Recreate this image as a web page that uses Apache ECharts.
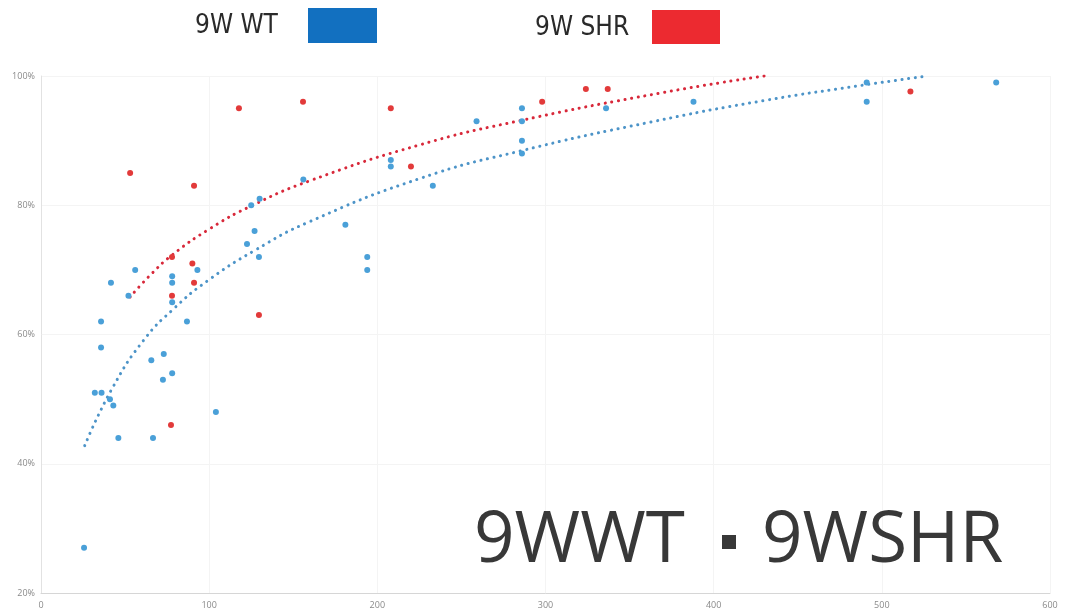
<!DOCTYPE html>
<html>
<head>
<meta charset="utf-8">
<title>9W WT / 9W SHR</title>
<script src="https://cdn.jsdelivr.net/npm/echarts@6/dist/echarts.min.js"></script>
<style>
  html, body { margin: 0; padding: 0; background: #fff; }
  #main { width: 1066px; height: 612px; }
</style>
</head>
<body>
<div id="main"></div>
<script>
// 9W WT 数据点 (x, 百分比)
var wtX = [25.6, 32, 36, 35.7, 35.7, 41, 43, 41.6, 46, 52, 56, 65.6, 66.6, 72.5, 73, 78, 78, 78, 78, 86.8, 93, 104,
  122.5, 125, 127, 129.6, 130, 156, 181, 194, 194, 208, 208, 233, 259, 286, 286, 286, 286, 336, 388, 491, 491, 568];
var wtY = [27, 51, 51, 62, 58, 50, 49, 68, 44, 66, 70, 56, 44, 53, 57, 69, 68, 65, 54, 62, 70, 48,
  74, 80, 76, 72, 81, 84, 77, 72, 70, 87, 86, 83, 93, 95, 93, 90, 88, 95, 96, 99, 96, 99];

// 9W SHR 数据点
var shrX = [53, 77.9, 77.9, 77.3, 90, 91, 91, 117.7, 129.6, 155.8, 208, 220, 298, 324, 337, 517];
var shrY = [85, 72, 66, 46, 71, 68, 83, 95, 63, 96, 95, 86, 96, 98, 98, 97.6];

// 趋势线
var wtTrendX = [26, 42, 61, 79, 99, 127, 160, 226, 285, 363, 430, 492, 527];
var wtTrendY = [42.8, 51.5, 59.1, 64.0, 68.3, 73.0, 77.5, 84.2, 88.4, 92.9, 96.2, 98.7, 100];
var shrTrendX = [53, 65, 78, 100, 125, 160, 226, 285, 369, 430];
var shrTrendY = [65.8, 69.2, 72.3, 76.3, 79.9, 83.8, 89.4, 93.1, 97.4, 100];

var xTicks = [0, 100, 200, 300, 400, 500, 600];
var yTicks = [20, 40, 60, 80, 100];

var legendNames = ['9W WT', '9W SHR'];
var titleParts = ['9WWT', '9WSHR'];

function pairs(xs, ys) {
  var out = [];
  for (var i = 0; i < xs.length; i++) out.push([xs[i], ys[i]]);
  return out;
}

var chart = echarts.init(document.getElementById('main'), null, { renderer: 'canvas' });

var legendFont = '"Liberation Sans Narrow", "DejaVu Sans Condensed", "Roboto Condensed", "Open Sans", sans-serif';

var dotLine = function (color) {
  return { color: color, width: 3, type: [0.1, 6.6], cap: 'round' };
};

var option = {
  animation: false,
  backgroundColor: '#fff',
  grid: { left: 41, right: 16, top: 76, bottom: 19 },
  xAxis: {
    type: 'value',
    min: xTicks[0],
    max: xTicks[xTicks.length - 1],
    interval: 100,
    axisLine: { show: true, lineStyle: { color: '#d6d6d6' } },
    axisTick: { show: false },
    axisLabel: { color: '#8a8a8a', fontSize: 9, fontFamily: 'Open Sans', margin: 8 },
    splitLine: { show: true, lineStyle: { color: '#f4f4f4' } }
  },
  yAxis: {
    type: 'value',
    min: yTicks[0],
    max: yTicks[yTicks.length - 1],
    interval: 20,
    axisLine: { show: true, lineStyle: { color: '#e2e2e2' } },
    axisTick: { show: false },
    axisLabel: { color: '#8a8a8a', fontSize: 9, fontFamily: 'Open Sans', formatter: '{value}%', margin: 6 },
    splitLine: { show: true, lineStyle: { color: '#f4f4f4' } }
  },
  graphic: [
    // 图例
    { type: 'text', left: 195, top: 13, style: { text: legendNames[0], fontSize: 26, fontFamily: legendFont, fill: '#2a2a2a' } },
    { type: 'rect', shape: { x: 308, y: 8, width: 69, height: 35 }, style: { fill: '#1270c0' } },
    { type: 'text', left: 535, top: 15, style: { text: legendNames[1], fontSize: 26, fontFamily: legendFont, fill: '#2a2a2a' } },
    { type: 'rect', shape: { x: 652, y: 10, width: 68, height: 34 }, style: { fill: '#ec2a30' } },
    // 大标题
    { type: 'text', left: 474, top: 506, z: 10,
      style: { text: titleParts[0], fontSize: 71, fontFamily: 'Open Sans', fill: '#383838' } },
    { type: 'rect', z: 10, shape: { x: 722, y: 535, width: 14, height: 14 }, style: { fill: '#383838' } },
    { type: 'text', left: 762, top: 506, z: 10,
      style: { text: titleParts[1], fontSize: 71, fontFamily: 'Open Sans', fill: '#383838' } }
  ],
  series: [
    {
      name: '9W WT trend',
      type: 'line',
      data: pairs(wtTrendX, wtTrendY),
      smooth: true,
      showSymbol: false,
      lineStyle: dotLine('#4d94c8'),
      z: 2
    },
    {
      name: '9W SHR trend',
      type: 'line',
      data: pairs(shrTrendX, shrTrendY),
      smooth: true,
      showSymbol: false,
      lineStyle: dotLine('#d8283a'),
      z: 2
    },
    {
      name: legendNames[0],
      type: 'scatter',
      data: pairs(wtX, wtY),
      symbolSize: 6,
      itemStyle: { color: '#4aa0d8', opacity: 1 },
      z: 3
    },
    {
      name: legendNames[1],
      type: 'scatter',
      data: pairs(shrX, shrY),
      symbolSize: 6,
      itemStyle: { color: '#e23a3a', opacity: 1 },
      z: 3
    }
  ]
};

chart.setOption(option);
</script>
</body>
</html>
